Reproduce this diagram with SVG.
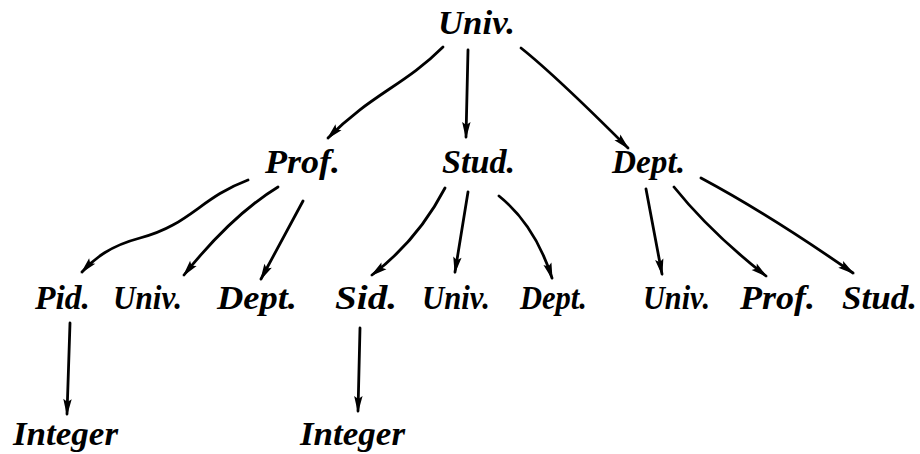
<svg xmlns="http://www.w3.org/2000/svg" width="920" height="454" viewBox="0 0 920 454">
  <defs>
    <style>
      .lbl { font-family: "Liberation Serif", "DejaVu Serif", serif; font-style: italic; font-weight: bold; font-size: 33px; fill: #000; }
      .top { font-size: 34px; }
      .edge { fill: none; stroke: #000; stroke-width: 2.8; stroke-linecap: round; marker-end: url(#dart); }
    </style>
    <marker id="dart" markerUnits="userSpaceOnUse" viewBox="-2 -6 22 12" markerWidth="22" markerHeight="12" refX="15" refY="0" orient="auto">
      <path d="M0,-4.2 L17,0 L0,4.2 L3,0 Z" fill="#000"/>
    </marker>
  </defs>
  <rect width="920" height="454" fill="#fff"/>

  <g id="edges">
    <!-- Univ. to its three children -->
    <path class="edge" d="M443,47 C405,85 370,95 328,138"/>
    <path class="edge" d="M468,50 L466,137"/>
    <path class="edge" d="M521,48 Q555,75 628,148"/>
    <!-- Prof. -->
    <path class="edge" d="M248,180 C200,198 190,225 140,238 C110,246 95,258 82,272"/>
    <path class="edge" d="M278,187 Q232,215 184,275"/>
    <path class="edge" d="M303,201 L261,279"/>
    <!-- Stud. -->
    <path class="edge" d="M445,188 Q418,240 372,275"/>
    <path class="edge" d="M468,192 L455,272"/>
    <path class="edge" d="M499,196 Q535,225 552,278"/>
    <!-- Dept. -->
    <path class="edge" d="M646,189 L662,274"/>
    <path class="edge" d="M674,187 Q710,232 766,276"/>
    <path class="edge" d="M701,178 Q770,215 853,273"/>
    <!-- identifiers to Integer -->
    <path class="edge" d="M70,323 L67,414"/>
    <path class="edge" d="M360,328 L358,411"/>
  </g>

  <g id="univ"><text class="lbl top" x="438" y="34" textLength="77" lengthAdjust="spacingAndGlyphs">Univ.</text></g>

  <g id="prof"><text class="lbl" x="265" y="173" textLength="75" lengthAdjust="spacingAndGlyphs">Prof.</text></g>
  <g id="stud"><text class="lbl" x="442" y="173" textLength="73" lengthAdjust="spacingAndGlyphs">Stud.</text></g>
  <g id="dept"><text class="lbl" x="612" y="173" textLength="73" lengthAdjust="spacingAndGlyphs">Dept.</text></g>

  <g id="prof-pid"><text class="lbl" x="35" y="309" textLength="55" lengthAdjust="spacingAndGlyphs">Pid.</text></g>
  <g id="prof-univ"><text class="lbl" x="113" y="309" textLength="69" lengthAdjust="spacingAndGlyphs">Univ.</text></g>
  <g id="prof-dept"><text class="lbl" x="217" y="309" textLength="80" lengthAdjust="spacingAndGlyphs">Dept.</text></g>

  <g id="stud-sid"><text class="lbl" x="335" y="309" textLength="62" lengthAdjust="spacingAndGlyphs">Sid.</text></g>
  <g id="stud-univ"><text class="lbl" x="422" y="309" textLength="68" lengthAdjust="spacingAndGlyphs">Univ.</text></g>
  <g id="stud-dept"><text class="lbl" x="520" y="309" textLength="67" lengthAdjust="spacingAndGlyphs">Dept.</text></g>

  <g id="dept-univ"><text class="lbl" x="643" y="309" textLength="67" lengthAdjust="spacingAndGlyphs">Univ.</text></g>
  <g id="dept-prof"><text class="lbl" x="740" y="309" textLength="75" lengthAdjust="spacingAndGlyphs">Prof.</text></g>
  <g id="dept-stud"><text class="lbl" x="842" y="309" textLength="75" lengthAdjust="spacingAndGlyphs">Stud.</text></g>

  <g id="pid-integer"><text class="lbl" x="13" y="445" textLength="105" lengthAdjust="spacingAndGlyphs">Integer</text></g>
  <g id="sid-integer"><text class="lbl" x="300" y="445" textLength="105" lengthAdjust="spacingAndGlyphs">Integer</text></g>
</svg>
